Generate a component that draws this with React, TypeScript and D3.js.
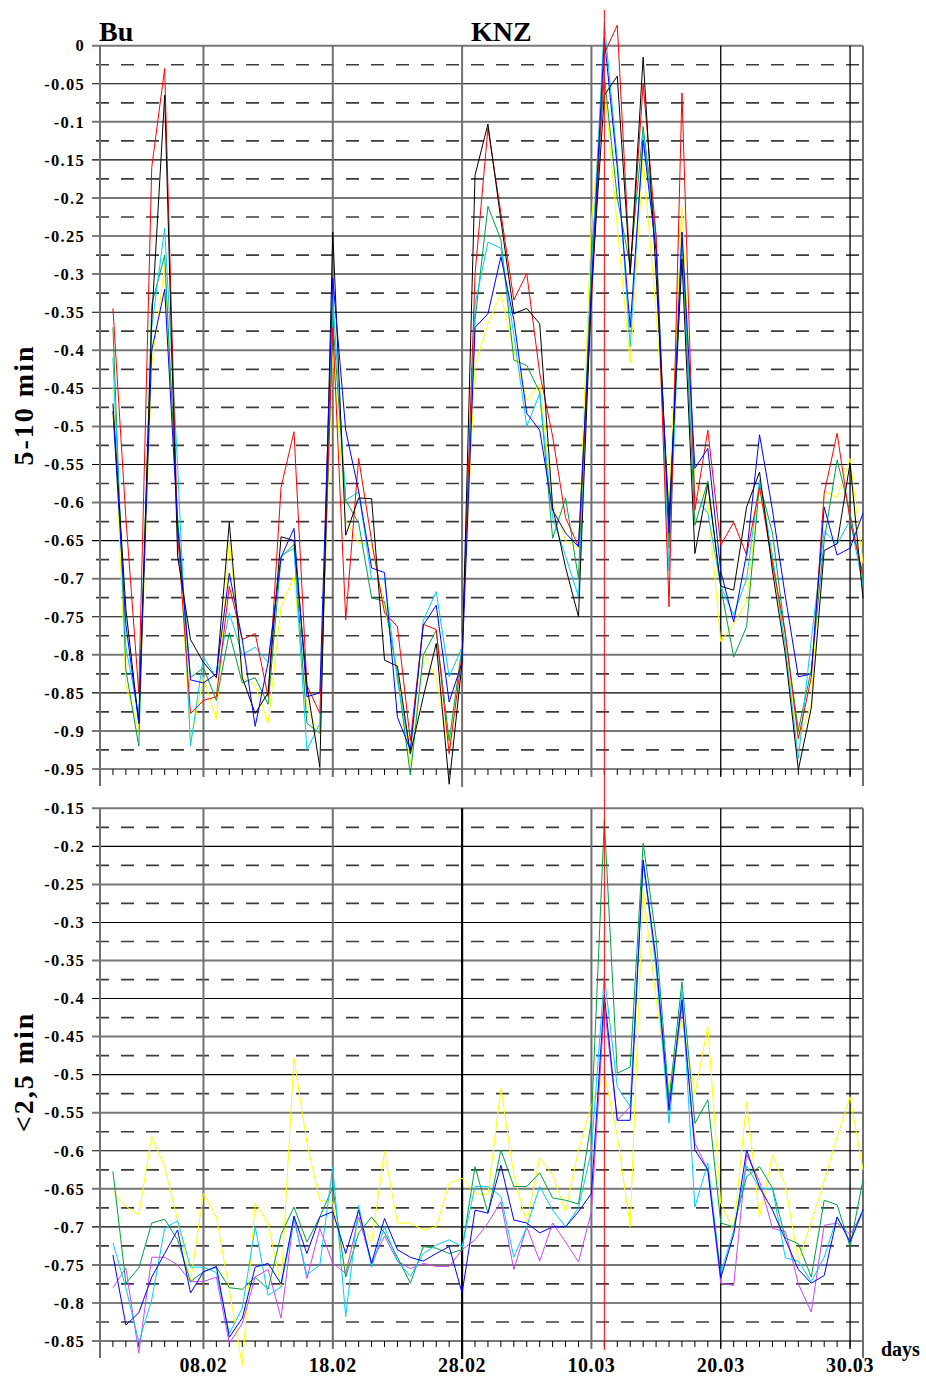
import React from "react";
import * as d3 from "d3";

// days: Feb 1 .. Mar 31, one value per day
const YEAR = "2005";
const firstAxisDay = "31.01";
const lastAxisDay = "31.03";
const xTickLabels = ["08.02", "18.02", "28.02", "10.03", "20.03", "30.03"];
const markerDay = "11.03";

const topYLabels = ["0", "-0.05", "-0.1", "-0.15", "-0.2", "-0.25", "-0.3", "-0.35", "-0.4", "-0.45",
  "-0.5", "-0.55", "-0.6", "-0.65", "-0.7", "-0.75", "-0.8", "-0.85", "-0.9", "-0.95"];
const lowYLabels = ["-0.15", "-0.2", "-0.25", "-0.3", "-0.35", "-0.4", "-0.45", "-0.5",
  "-0.55", "-0.6", "-0.65", "-0.7", "-0.75", "-0.8", "-0.85"];

// 5-10 min
const topRed = [-0.345, -0.62, -0.85, -0.16, -0.03, -0.64, -0.877, -0.86, -0.855, -0.71,
  -0.78, -0.772, -0.855, -0.58, -0.507, -0.84, -0.877, -0.37, -0.754, -0.542,
  -0.65, -0.745, -0.763, -0.913, -0.76, -0.767, -0.93, -0.8, -0.3, -0.108,
  -0.22, -0.334, -0.299, -0.43, -0.513, -0.62, -0.658, -0.34, -0.01, 0.027,
  -0.3, -0.05, -0.25, -0.737, -0.062, -0.61, -0.505, -0.656, -0.626, -0.669,
  -0.58, -0.68, -0.772, -0.91, -0.83, -0.588, -0.509, -0.624, -0.694];
const topBlack = [-0.47, -0.74, -0.89, -0.36, -0.065, -0.67, -0.78, -0.81, -0.83, -0.626,
  -0.83, -0.877, -0.85, -0.645, -0.65, -0.84, -0.948, -0.245, -0.643, -0.594,
  -0.595, -0.807, -0.815, -0.93, -0.855, -0.785, -0.97, -0.81, -0.17, -0.103,
  -0.229, -0.352, -0.345, -0.365, -0.606, -0.685, -0.75, -0.32, -0.065, -0.04,
  -0.3, -0.015, -0.3, -0.62, -0.28, -0.667, -0.576, -0.71, -0.715, -0.606,
  -0.56, -0.69, -0.8, -0.951, -0.87, -0.663, -0.654, -0.548, -0.726];
const topGreen = [-0.37, -0.82, -0.92, -0.34, -0.275, -0.62, -0.83, -0.817, -0.86, -0.771,
  -0.837, -0.83, -0.865, -0.672, -0.655, -0.89, -0.903, -0.36, -0.597, -0.627,
  -0.725, -0.73, -0.827, -0.958, -0.8, -0.768, -0.913, -0.79, -0.36, -0.211,
  -0.255, -0.413, -0.42, -0.455, -0.647, -0.594, -0.7, -0.28, -0.04, -0.2,
  -0.29, -0.106, -0.25, -0.66, -0.245, -0.63, -0.572, -0.71, -0.803, -0.763,
  -0.575, -0.64, -0.775, -0.899, -0.82, -0.65, -0.544, -0.614, -0.7];
const topCyan = [-0.41, -0.79, -0.88, -0.37, -0.24, -0.55, -0.92, -0.803, -0.83, -0.745,
  -0.8, -0.79, -0.81, -0.67, -0.66, -0.925, -0.89, -0.33, -0.597, -0.586,
  -0.7, -0.7, -0.834, -0.93, -0.755, -0.717, -0.829, -0.79, -0.34, -0.258,
  -0.266, -0.38, -0.5, -0.457, -0.62, -0.67, -0.724, -0.3, 0.03, -0.15,
  -0.395, -0.115, -0.26, -0.69, -0.25, -0.592, -0.614, -0.71, -0.748, -0.7,
  -0.57, -0.67, -0.79, -0.936, -0.78, -0.638, -0.655, -0.623, -0.71];
const topBlue = [-0.48, -0.76, -0.89, -0.4, -0.32, -0.63, -0.833, -0.837, -0.825, -0.693,
  -0.78, -0.894, -0.81, -0.672, -0.634, -0.855, -0.85, -0.305, -0.505, -0.585,
  -0.686, -0.692, -0.882, -0.925, -0.761, -0.735, -0.862, -0.81, -0.37, -0.352,
  -0.277, -0.36, -0.483, -0.505, -0.61, -0.64, -0.658, -0.32, 0.01, -0.16,
  -0.37, -0.124, -0.27, -0.64, -0.245, -0.555, -0.529, -0.69, -0.757, -0.667,
  -0.511, -0.61, -0.724, -0.829, -0.825, -0.606, -0.669, -0.66, -0.614];
const topYellow = [-0.45, -0.84, -0.9, -0.42, -0.29, -0.62, -0.915, -0.83, -0.885, -0.65,
  -0.83, -0.84, -0.89, -0.737, -0.697, -0.87, -0.905, -0.4, -0.623, -0.653,
  -0.656, -0.737, -0.82, -0.944, -0.798, -0.83, -0.925, -0.78, -0.42, -0.365,
  -0.326, -0.4, -0.466, -0.445, -0.6, -0.65, -0.66, -0.23, -0.05, -0.238,
  -0.417, -0.15, -0.35, -0.6, -0.212, -0.575, -0.6, -0.783, -0.76, -0.73,
  -0.58, -0.68, -0.79, -0.912, -0.864, -0.585, -0.594, -0.542, -0.68];

// <2,5 min
const lowYellow = [-0.654, -0.673, -0.684, -0.581, -0.621, -0.691, -0.772, -0.656, -0.687, -0.783,
  -0.882, -0.669, -0.695, -0.779, -0.478, -0.59, -0.665, -0.668, -0.761, -0.691,
  -0.72, -0.601, -0.695, -0.695, -0.704, -0.7, -0.643, -0.636, -0.656, -0.658,
  -0.518, -0.632, -0.695, -0.609, -0.632, -0.68, -0.599, -0.54, -0.5, -0.58,
  -0.7, -0.258, -0.4, -0.52, -0.428, -0.525, -0.437, -0.669, -0.705, -0.536,
  -0.687, -0.606, -0.645, -0.745, -0.694, -0.64, -0.582, -0.529, -0.625];
const lowGreen = [-0.627, -0.774, -0.754, -0.695, -0.69, -0.717, -0.772, -0.759, -0.753, -0.78,
  -0.782, -0.766, -0.782, -0.71, -0.674, -0.72, -0.687, -0.648, -0.766, -0.708,
  -0.687, -0.708, -0.74, -0.774, -0.726, -0.728, -0.735, -0.73, -0.621, -0.682,
  -0.599, -0.647, -0.647, -0.629, -0.662, -0.665, -0.67, -0.56, -0.165, -0.498,
  -0.49, -0.196, -0.32, -0.533, -0.378, -0.564, -0.533, -0.695, -0.7, -0.634,
  -0.621, -0.649, -0.715, -0.722, -0.766, -0.665, -0.671, -0.726, -0.638];
const lowCyan = [-0.721, -0.78, -0.851, -0.796, -0.702, -0.692, -0.753, -0.753, -0.76, -0.84,
  -0.807, -0.7, -0.79, -0.779, -0.69, -0.763, -0.75, -0.621, -0.818, -0.672,
  -0.753, -0.7, -0.745, -0.765, -0.735, -0.724, -0.717, -0.726, -0.647, -0.647,
  -0.66, -0.74, -0.7, -0.647, -0.678, -0.7, -0.675, -0.6, -0.37, -0.516,
  -0.542, -0.22, -0.36, -0.564, -0.39, -0.674, -0.616, -0.761, -0.705, -0.62,
  -0.649, -0.65, -0.741, -0.745, -0.772, -0.74, -0.687, -0.72, -0.68];
const lowBlue = [-0.737, -0.829, -0.813, -0.766, -0.735, -0.704, -0.787, -0.759, -0.752, -0.845,
  -0.82, -0.753, -0.748, -0.775, -0.686, -0.735, -0.687, -0.68, -0.735, -0.678,
  -0.748, -0.689, -0.73, -0.74, -0.745, -0.735, -0.726, -0.787, -0.678, -0.682,
  -0.619, -0.691, -0.695, -0.708, -0.7, -0.7, -0.68, -0.656, -0.395, -0.56,
  -0.56, -0.218, -0.35, -0.547, -0.402, -0.599, -0.625, -0.767, -0.71, -0.599,
  -0.648, -0.678, -0.717, -0.756, -0.774, -0.764, -0.687, -0.72, -0.677];
const lowViolet = [-0.78, -0.754, -0.866, -0.74, -0.74, -0.75, -0.772, -0.772, -0.766, -0.853,
  -0.827, -0.766, -0.756, -0.82, -0.686, -0.768, -0.702, -0.748, -0.761, -0.687,
  -0.748, -0.712, -0.745, -0.755, -0.748, -0.752, -0.752, -0.73, -0.717, -0.695,
  -0.667, -0.756, -0.7, -0.745, -0.695, -0.72, -0.746, -0.68, -0.41, -0.56,
  -0.542, -0.22, -0.35, -0.54, -0.41, -0.59, -0.625, -0.774, -0.777, -0.605,
  -0.64, -0.702, -0.706, -0.775, -0.812, -0.698, -0.695, -0.71, -0.68];

const topSeries = [
  { values: topYellow, color: "#ffff00" },
  { values: topGreen, color: "#00a040" },
  { values: topCyan, color: "#00ccff" },
  { values: topRed, color: "#ff0000" },
  { values: topBlack, color: "#000000" },
  { values: topBlue, color: "#0000ff" },
];
const lowSeries = [
  { values: lowYellow, color: "#ffff00" },
  { values: lowViolet, color: "#cc44ff" },
  { values: lowGreen, color: "#00a040" },
  { values: lowCyan, color: "#00ccff" },
  { values: lowBlue, color: "#0000ff" },
];

const parseDay = (s: string) => d3.utcParse("%d.%m.%Y")(s + "." + YEAR) as Date;
const x = d3.scaleUtc()
  .domain([parseDay(firstAxisDay), parseDay(lastAxisDay)])
  .range([100, 863]);
const dayOf = (i: number) => d3.utcDay.offset(x.domain()[0], i + 1);
const allDays = d3.utcDay.range(d3.utcDay.offset(x.domain()[0], 1), x.domain()[1]);

const FONT = "'Liberation Serif', 'Times New Roman', serif";

function Panel({ labels, yDomain, yRange, series, darkLine }: any) {
  const y = d3.scaleLinear().domain(yDomain).range(yRange);
  const [top, bottom] = yRange;
  const line = d3.line<number>().x((_, i) => x(dayOf(i))).y((v) => y(v));
  const values = labels.map((l: string) => +l);
  const dashed = values.slice(1).map((v: number, i: number) => (v + values[i]) / 2);
  return (
    <g>
      {dashed.map((v: number, i: number) => (
        <line key={"d" + i} x1={96} x2={863} y1={y(v)} y2={y(v)}
          stroke="#3c3c3c" strokeWidth={1.7} strokeDasharray="13,12" />
      ))}
      {values.map((v: number, k: number) => (
        <line key={"h" + k} x1={92} x2={863} y1={y(v)} y2={y(v)}
          stroke={k % 2 === 0 ? "#777" : "#000"} strokeWidth={k % 2 === 0 ? 2 : 1.1} />
      ))}
      {labels.map((l: string, k: number) => (
        <text key={"l" + k} x={85} y={y(values[k])} dy="0.35em" textAnchor="end"
          fontFamily={FONT} fontWeight="bold" fontSize={16.5} letterSpacing={1.3}>{l}</text>
      ))}
      {allDays.map((d, i) => (
        <line key={"t" + i} x1={x(d)} x2={x(d)} y1={bottom} y2={bottom + 6} stroke="#000" strokeWidth={1} />
      ))}
      {xTickLabels.map((l) => {
        const xx = x(parseDay(l));
        const isDark = darkLine && l === "28.02";
        const black = l === "20.03" || l === "30.03" || isDark;
        const ext = l === "28.02" ? 18 : 8;
        return (
          <line key={"v" + l} x1={xx} x2={xx} y1={top} y2={bottom + ext}
            stroke={black ? "#000" : "#707070"} strokeWidth={isDark ? 2.2 : black ? 1.3 : 2} />
        );
      })}
      <line x1={100} x2={100} y1={top} y2={bottom + 17} stroke="#707070" strokeWidth={2} />
      <line x1={863} x2={863} y1={top} y2={bottom + 17} stroke="#707070" strokeWidth={2} />
      {series.map((s: any, i: number) => (
        <path key={"s" + i} d={line(s.values) as string} fill="none" stroke={s.color} strokeWidth={1} />
      ))}
    </g>
  );
}

export default function App() {
  const mx = x(parseDay(markerDay));
  return (
    <div style={{ position: "absolute", left: 0, top: 0 }}>
      <svg width={926} height={1376} style={{ display: "block", background: "#fff" }}>
        <Panel labels={topYLabels} yDomain={[0, -0.95]} yRange={[45.7, 769]} series={topSeries} darkLine={false} />
        <Panel labels={lowYLabels} yDomain={[-0.15, -0.85]} yRange={[808.3, 1341]} series={lowSeries} darkLine={true} />
        <line x1={mx} x2={mx} y1={10} y2={1350} stroke="#ff0000" strokeWidth={1} />
        <text x={99} y={41} fontFamily={FONT} fontWeight="bold" fontSize={28}>Bu</text>
        <text x={471} y={41} fontFamily={FONT} fontWeight="bold" fontSize={28}>KNZ</text>
        <text transform="translate(33,405) rotate(-90)" textAnchor="middle" fontFamily={FONT}
          fontWeight="bold" fontSize={28} letterSpacing={2}>5-10 min</text>
        <text transform="translate(33,1072) rotate(-90)" textAnchor="middle" fontFamily={FONT}
          fontWeight="bold" fontSize={28} letterSpacing={2}>{"<2,5 min"}</text>
        {xTickLabels.map((l) => (
          <text key={l} x={x(parseDay(l))} y={1372} textAnchor="middle" fontFamily={FONT}
            fontWeight="bold" fontSize={20} letterSpacing={0.6}>{l}</text>
        ))}
        <text x={881} y={1356} fontFamily={FONT} fontWeight="bold" fontSize={20}>days</text>
      </svg>
    </div>
  );
}
